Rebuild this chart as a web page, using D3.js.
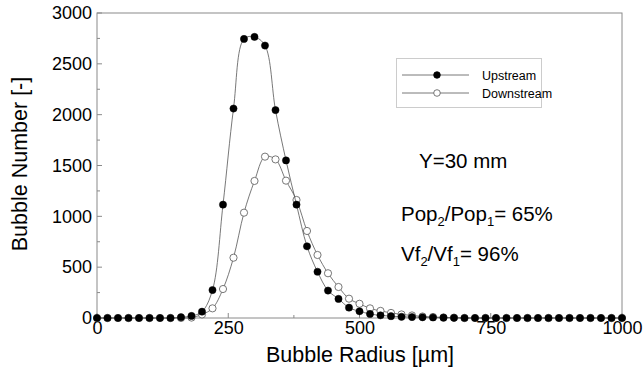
<!DOCTYPE html>
<html>
<head>
<meta charset="utf-8">
<script src="https://cdn.jsdelivr.net/npm/d3@7"></script>
<style>
  body { margin: 0; background: #fff; }
  text { font-family: "Liberation Sans", Arial, sans-serif; fill: #000; }
</style>
</head>
<body>
<div id="chart"></div>
<script>
// bubble radius classes [um]
const radius = [0, 20, 40, 60, 80, 100, 120, 140, 160, 180, 200, 220, 240, 260, 280, 300, 320, 340, 360, 380,
  400, 420, 440, 460, 480, 500, 520, 540, 560, 580, 600, 620, 640, 660, 680, 700, 720, 740, 760, 780,
  800, 820, 840, 860, 880, 900, 920, 940, 960, 980, 1000];
const upstream = [0, 0, 0, 0, 0, 0, 0, 0, 8, 20, 62, 275, 1115, 2060, 2745, 2765, 2680, 2045, 1550, 1115,
  705, 455, 270, 188, 102, 66, 40, 26, 18, 12, 9, 7, 5, 3, 2, 0, 0, 0, 0, 0,
  0, 0, 0, 0, 0, 0, 0, 0, 0, 0, 0];
const downstream = [0, 0, 0, 0, 0, 0, 0, 0, 0, 4, 35, 95, 285, 593, 1036, 1348, 1587, 1560, 1351, 1161,
  856, 620, 440, 305, 190, 140, 95, 70, 50, 35, 25, 15, 10, 6, 3, 0, 0, 0, 0, 0,
  0, 0, 0, 0, 0, 0, 0, 0, 0, 0, 0];
const xTicks = [0, 250, 500, 750, 1000];
const yTicks = [0, 500, 1000, 1500, 2000, 2500, 3000];

const width = 644, height = 375;
const svg = d3.select('#chart').append('svg')
    .attr('width', width)
    .attr('height', height);

const x = d3.scaleLinear().domain([0, 1000]).range([97, 622]);
const y = d3.scaleLinear().domain([0, 3000]).range([318, 13]);

// frame
const frameColor = '#8a8a8a';
svg.append('rect')
    .attr('x', x(0)).attr('y', y(3000))
    .attr('width', x(1000) - x(0)).attr('height', y(0) - y(3000))
    .attr('fill', 'none').attr('stroke', frameColor).attr('stroke-width', 1);

// inward ticks
const ticks = svg.append('g').attr('stroke', frameColor).attr('stroke-width', 1);
d3.range(0, 3001, 250).forEach(v => {
  const len = v % 500 === 0 ? 5 : 3;
  ticks.append('line').attr('x1', x(0)).attr('x2', x(0) + len).attr('y1', y(v)).attr('y2', y(v));
});
d3.range(0, 1001, 125).forEach(v => {
  const len = v % 250 === 0 ? 5 : 3;
  ticks.append('line').attr('x1', x(v)).attr('x2', x(v)).attr('y1', y(0)).attr('y2', y(0) - len);
});

// axis labels via d3 axes, lines removed
const yAxis = d3.axisLeft(y).tickValues(yTicks).tickFormat(d3.format('d')).tickSize(0).tickPadding(5);
svg.append('g')
    .attr('transform', 'translate(' + x(0) + ',0)')
    .call(yAxis)
    .call(g => g.select('.domain').remove())
    .selectAll('text')
    .style('font-size', '18px')
    .style('font-family', '"Liberation Sans", Arial, sans-serif')
    .attr('fill', '#000');

const xAxis = d3.axisBottom(x).tickValues(xTicks).tickFormat(d3.format('d')).tickSize(0).tickPadding(3);
svg.append('g')
    .attr('transform', 'translate(0,' + y(0) + ')')
    .call(xAxis)
    .call(g => g.select('.domain').remove())
    .selectAll('text')
    .style('font-size', '18px')
    .style('font-family', '"Liberation Sans", Arial, sans-serif')
    .attr('fill', '#000');

// titles
svg.append('text')
    .attr('x', 360).attr('y', 362)
    .attr('text-anchor', 'middle')
    .attr('font-size', '21.5px')
    .text('Bubble Radius [\u00b5m]');

svg.append('text')
    .attr('transform', 'translate(27,164) rotate(-90)')
    .attr('text-anchor', 'middle')
    .attr('font-size', '21.5px')
    .text('Bubble Number [-]');

// series
const line = d3.line()
    .x((d, i) => x(radius[i]))
    .y(d => y(d))
    .curve(d3.curveCatmullRom);

function drawSeries(values, filled) {
  svg.append('path')
      .datum(values)
      .attr('fill', 'none')
      .attr('stroke', '#555')
      .attr('stroke-width', 0.8)
      .attr('d', line);
  svg.append('g')
      .selectAll('circle')
      .data(values)
      .enter()
      .append('circle')
      .attr('cx', (d, i) => x(radius[i]))
      .attr('cy', d => y(d))
      .attr('r', 3.6)
      .attr('fill', filled ? '#000' : '#fff')
      .attr('stroke', filled ? '#000' : '#555')
      .attr('stroke-width', filled ? 0.5 : 0.8);
}
drawSeries(downstream, false);
drawSeries(upstream, true);

// legend
const legend = svg.append('g');
legend.append('rect')
    .attr('x', 396.5).attr('y', 58.5)
    .attr('width', 145).attr('height', 49)
    .attr('fill', '#fff')
    .attr('stroke', '#999')
    .attr('stroke-width', 1)
    .attr('stroke-dasharray', '1,1');
[['Upstream', 75, true], ['Downstream', 93, false]].forEach(([name, ly, filled]) => {
  legend.append('line')
      .attr('x1', 402).attr('x2', 469).attr('y1', ly).attr('y2', ly)
      .attr('stroke', '#555').attr('stroke-width', 0.8);
  legend.append('circle')
      .attr('cx', 437).attr('cy', ly).attr('r', 3.3)
      .attr('fill', filled ? '#000' : '#fff')
      .attr('stroke', filled ? '#000' : '#555')
      .attr('stroke-width', 0.8);
  legend.append('text')
      .attr('x', 482).attr('y', ly + 4.5)
      .attr('font-size', '12.5px')
      .text(name);
});

// annotations
svg.append('text')
    .attr('x', 419).attr('y', 168)
    .attr('font-size', '20.5px')
    .text('Y=30 mm');

const pop = svg.append('text').attr('x', 401).attr('y', 221).attr('font-size', '20.5px');
pop.append('tspan').text('Pop');
pop.append('tspan').attr('dy', 5).attr('font-size', '13px').text('2');
pop.append('tspan').attr('dy', -5).text('/Pop');
pop.append('tspan').attr('dy', 5).attr('font-size', '13px').text('1');
pop.append('tspan').attr('dy', -5).text('= 65%');

const vf = svg.append('text').attr('x', 401).attr('y', 261).attr('font-size', '20.5px');
vf.append('tspan').text('Vf');
vf.append('tspan').attr('dy', 5).attr('font-size', '13px').text('2');
vf.append('tspan').attr('dy', -5).text('/Vf');
vf.append('tspan').attr('dy', 5).attr('font-size', '13px').text('1');
vf.append('tspan').attr('dy', -5).text('= 96%');
</script>
</body>
</html>
